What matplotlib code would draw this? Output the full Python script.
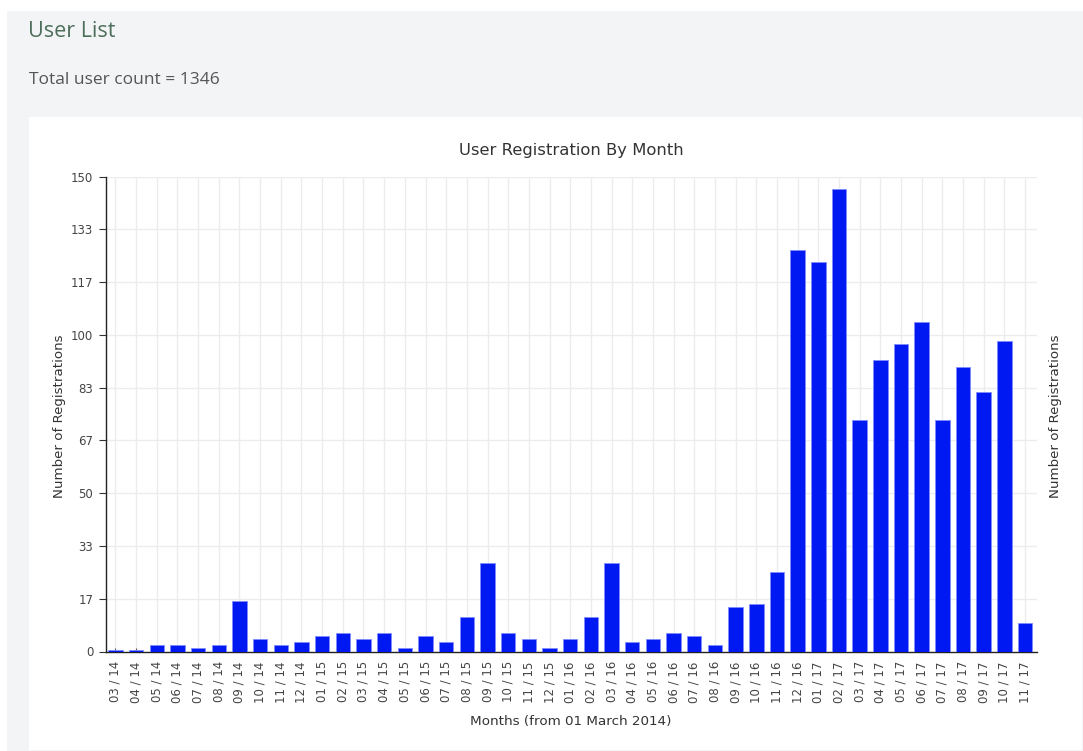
import matplotlib
matplotlib.use("Agg")
import matplotlib.pyplot as plt
from matplotlib.patches import Rectangle
import numpy as np

months = ["03 / 14", "04 / 14", "05 / 14", "06 / 14", "07 / 14", "08 / 14", "09 / 14",
          "10 / 14", "11 / 14", "12 / 14",
          "01 / 15", "02 / 15", "03 / 15", "04 / 15", "05 / 15", "06 / 15", "07 / 15",
          "08 / 15", "09 / 15", "10 / 15", "11 / 15", "12 / 15",
          "01 / 16", "02 / 16", "03 / 16", "04 / 16", "05 / 16", "06 / 16", "07 / 16",
          "08 / 16", "09 / 16", "10 / 16", "11 / 16", "12 / 16",
          "01 / 17", "02 / 17", "03 / 17", "04 / 17", "05 / 17", "06 / 17", "07 / 17",
          "08 / 17", "09 / 17", "10 / 17", "11 / 17"]
registrations = [0.5, 0.5, 2, 2, 1, 2, 16, 4, 2, 3,
                 5, 6, 4, 6, 1, 5, 3, 11, 28, 6, 4, 1,
                 4, 11, 28, 3, 4, 6, 5, 2, 14, 15, 25, 127,
                 123, 146, 73, 92, 97, 104, 73, 90, 82, 98, 9]
y_ticks = [0, 150 / 9, 300 / 9, 50, 600 / 9, 750 / 9, 100, 1050 / 9, 1200 / 9, 150]
y_tick_labels = ["0", "17", "33", "50", "67", "83", "100", "117", "133", "150"]

W, H = 1083, 751
fig = plt.figure(figsize=(W / 100, H / 100), dpi=100)
fig.patch.set_facecolor("white")

def px_rect(x0, y0, x1, y1, color):
    r = Rectangle((x0 / W, 1 - y1 / H), (x1 - x0) / W, (y1 - y0) / H,
                  transform=fig.transFigure, facecolor=color, edgecolor="none", zorder=-10)
    fig.add_artist(r)

px_rect(7, 11, W, H, "#f3f4f6")
px_rect(29, 117, 1081.5, 750, "white")

fig.text(28 / W, 1 - 31.5 / H, "User List", fontsize=15.5, color="#4d6e5a",
         family="Open Sans", va="center", ha="left")
fig.text(29 / W, 1 - 79.5 / H, "Total user count = 1346", fontsize=12.5, color="#555555",
         family="Open Sans", va="center", ha="left")

left, right, top, bottom = 105.7, 1036.7, 176.7, 651.5
ax = fig.add_axes([left / W, 1 - bottom / H, (right - left) / W, (bottom - top) / H])
ax.set_facecolor("white")

x = np.arange(len(months))
ax.bar(x, registrations, width=0.7, color="#0018f2", edgecolor="#7f8cff", linewidth=0.6, zorder=3)

ax.set_xlim(-0.47, len(months) - 1 + 0.565)
ax.set_ylim(0, 150)
ax.set_axisbelow(True)

ax.set_yticks(y_ticks)
ax.set_yticklabels(y_tick_labels, fontsize=8.5, color="#444444")
ax.set_xticks(x)
ax.set_xticklabels(months, rotation=90, fontsize=8.5, color="#444444")
ax.tick_params(axis="y", direction="out", length=5, width=0.8, color="#333333", pad=4)
ax.tick_params(axis="x", direction="in", length=3, width=0.8, color="#555555", pad=7)

ax.grid(True, color="#ececec", linewidth=1)
for s in ["top", "right"]:
    ax.spines[s].set_visible(False)
for s in ["left", "bottom"]:
    ax.spines[s].set_color("#222222")
    ax.spines[s].set_linewidth(1)

fig.text(571 / W, 1 - 150 / H, "User Registration By Month", fontsize=11.8,
         color="#333333", ha="center", va="center")
fig.text(571 / W, 1 - 721 / H, "Months (from 01 March 2014)", fontsize=9.7,
         color="#333333", ha="center", va="center")
fig.text(60 / W, 1 - 416 / H, "Number of Registrations", fontsize=9.6, rotation=90,
         color="#333333", ha="center", va="center")
fig.text(1056 / W, 1 - 416 / H, "Number of Registrations", fontsize=9.6, rotation=90,
         color="#333333", ha="center", va="center")

fig.savefig("out.png", dpi=100)
